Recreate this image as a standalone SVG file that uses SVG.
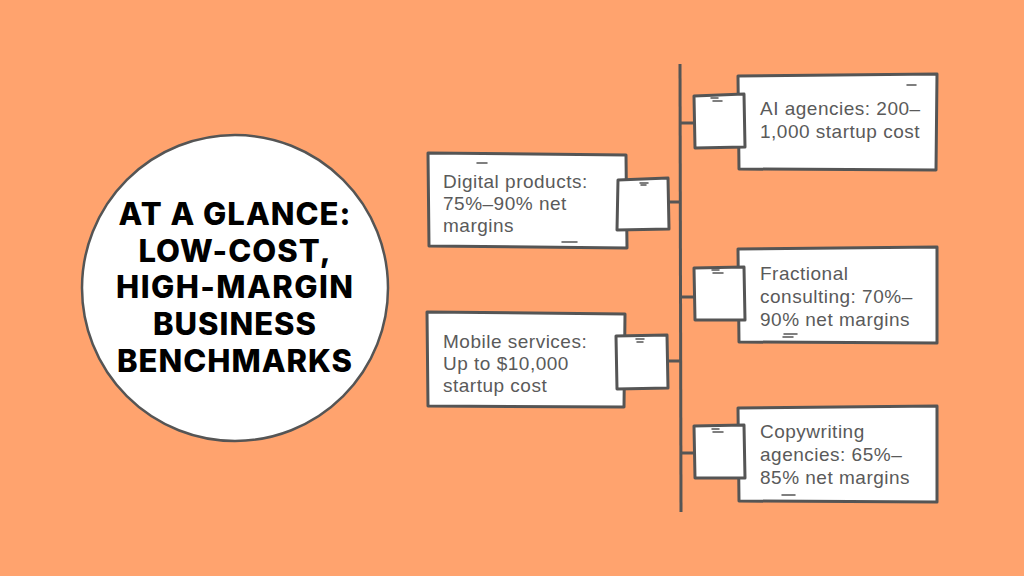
<svg xmlns="http://www.w3.org/2000/svg" width="1024" height="576" viewBox="0 0 1024 576">
<style>
.bx{fill:#fff;stroke:#555;stroke-width:3;stroke-linejoin:round}
.sq{fill:#fff;stroke:#555;stroke-width:3;stroke-linejoin:round}
.cn{stroke:#555;stroke-width:3;fill:none}
.dash{stroke:#555;stroke-width:1.5;fill:none;stroke-linecap:round}
.t{font-family:"Liberation Sans",Arial,sans-serif;font-size:19px;fill:#5a5a5a;letter-spacing:0.5px}
.h{font-family:"Inter","Liberation Sans",sans-serif;font-size:31px;font-weight:800;fill:#000;text-anchor:middle;letter-spacing:1px}
</style>
<rect width="1024" height="576" fill="#FFA36E"/>
<g id="title">
<circle cx="235" cy="288" r="153" fill="#fff" stroke="#555" stroke-width="2.5"/>
<text class="h" x="235" y="225">AT A GLANCE:</text>
<text class="h" x="235" y="262">LOW-COST,</text>
<text class="h" x="235" y="298" textLength="238">HIGH-MARGIN</text>
<text class="h" x="235" y="335">BUSINESS</text>
<text class="h" x="235" y="372">BENCHMARKS</text>
</g>
<g id="connectors">
<path class="cn" d="M680 64 L681 512"/>
<path class="cn" d="M681 123 H694"/>
<path class="cn" d="M669 202 H681"/>
<path class="cn" d="M668 361 H681"/>
<path class="cn" d="M681 297 H694"/>
<path class="cn" d="M681 453 H694"/>
</g>
<g id="n-ai">
<path class="bx" d="M738 76 L937 74 L936 170 L739 169 Z"/>
<path class="sq" d="M694 96 L744 94 L745 147 L695 148 Z"/>
<path class="dash" d="M711 98 H718 M713 101 H722 M907 85 H916"/>
<text class="t" x="760" y="115">AI agencies: 200–</text>
<text class="t" x="760" y="138">1,000 startup cost</text>
</g>
<g id="n-digital">
<path class="bx" d="M428 153 L626 155 L627 248 L429 246 Z"/>
<path class="sq" d="M618 180 L668 178 L669 229 L617 230 Z"/>
<path class="dash" d="M477 163 H487 M562 242 H577 M640 183 H648 M641 185 H646"/>
<text class="t" x="443" y="188">Digital products:</text>
<text class="t" x="443" y="210">75%–90% net</text>
<text class="t" x="443" y="232">margins</text>
</g>
<g id="n-mobile">
<path class="bx" d="M427 312 L625 314 L624 407 L428 406 Z"/>
<path class="sq" d="M616 336 L667 335 L668 388 L617 389 Z"/>
<path class="dash" d="M636 339 H644 M637 342 H643"/>
<text class="t" x="443" y="348">Mobile services:</text>
<text class="t" x="443" y="370">Up to $10,000</text>
<text class="t" x="443" y="392">startup cost</text>
</g>
<g id="n-fractional">
<path class="bx" d="M738 249 L937 247 L937 343 L739 342 Z"/>
<path class="sq" d="M694 268 L744 267 L745 320 L695 320 Z"/>
<path class="dash" d="M712 270 H719 M713 273 H723 M784 334 H797 M783 337 H793"/>
<text class="t" x="760" y="280">Fractional</text>
<text class="t" x="760" y="303">consulting: 70%–</text>
<text class="t" x="760" y="326">90% net margins</text>
</g>
<g id="n-copy">
<path class="bx" d="M738 408 L937 406 L937 502 L739 501 Z"/>
<path class="sq" d="M694 426 L744 425 L745 478 L695 478 Z"/>
<path class="dash" d="M712 429 H719 M713 432 H723 M782 495 H795"/>
<text class="t" x="760" y="438">Copywriting</text>
<text class="t" x="760" y="461">agencies: 65%–</text>
<text class="t" x="760" y="484">85% net margins</text>
</g>
</svg>
